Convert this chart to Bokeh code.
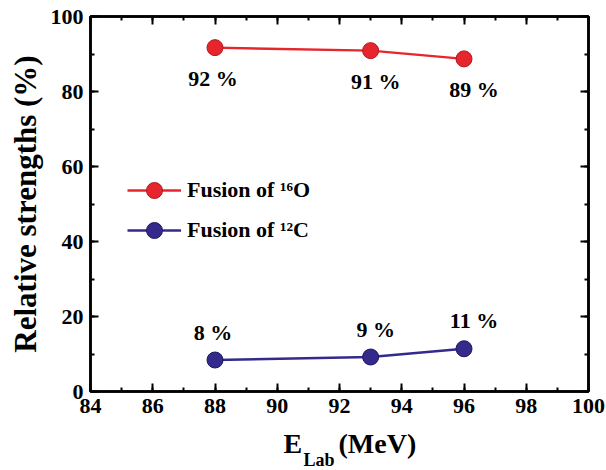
from bokeh.plotting import figure
from bokeh.layouts import column
from bokeh.models import (ColumnDataSource, Legend, LegendItem, Label, Range1d,
                          LinearAxis, SingleIntervalTicker)
from bokeh.embed import file_html
from bokeh.resources import INLINE
from bokeh.core.properties import value

# ---- data ----
energies = [88, 93, 96]
o16_strength = [91.7, 90.9, 88.7]
c12_strength = [8.4, 9.2, 11.4]
o16_labels = ["92 %", "91 %", "89 %"]
c12_labels = ["8 %", "9 %", "11 %"]
label_dx = [-2, 5, 10]

FONT = "Liberation Serif"
RED = "#e6262c"
RED_EDGE = "#b5161d"
BLUE = "#342a8c"
BLUE_EDGE = "#1f185c"

p = figure(width=606, height=426, x_range=Range1d(84, 100), y_range=Range1d(0, 100),
           x_axis_type=None, y_axis_type=None, output_backend="svg", title=None,
           toolbar_location=None, min_border_left=90, min_border_right=18,
           min_border_top=16, min_border_bottom=35)
p.outline_line_color = "black"
p.outline_line_width = 2.5
p.background_fill_color = "white"
p.border_fill_color = "white"


def style(ax, labels=True):
    ax.axis_line_width = 2.5
    ax.axis_line_color = "black"
    ax.major_tick_in = 8
    ax.major_tick_out = 0
    ax.minor_tick_in = 4
    ax.minor_tick_out = 0
    ax.major_tick_line_width = 2
    ax.minor_tick_line_width = 2
    ax.major_label_text_font = FONT
    ax.major_label_text_font_style = "bold"
    if labels:
        ax.major_label_text_font_size = "22px"
        ax.major_label_text_color = "black"
        ax.major_label_standoff = 7
    else:
        ax.major_label_text_font_size = "1px"
        ax.major_label_text_color = None
        ax.major_label_standoff = 0


xt = lambda: SingleIntervalTicker(interval=2, num_minor_ticks=2)
yt = lambda: SingleIntervalTicker(interval=20, num_minor_ticks=2)

bottom = LinearAxis(ticker=xt())
style(bottom)
top = LinearAxis(ticker=xt())
style(top, labels=False)
left = LinearAxis(ticker=yt(), axis_label="Relative strengths (%)")
style(left)
left.axis_label_text_font = FONT
left.axis_label_text_font_style = "bold"
left.axis_label_text_font_size = "31px"
left.axis_label_text_color = "black"
left.axis_label_standoff = 5
right = LinearAxis(ticker=yt())
style(right, labels=False)
p.add_layout(bottom, "below")
p.add_layout(left, "left")
p.add_layout(top, "above")
p.add_layout(right, "right")

src_o = ColumnDataSource(dict(x=energies, y=o16_strength, t=o16_labels, dx=label_dx))
src_c = ColumnDataSource(dict(x=energies, y=c12_strength, t=c12_labels, dx=label_dx))

lo = p.line("x", "y", source=src_o, line_color=RED, line_width=2.5)
so = p.scatter("x", "y", source=src_o, size=16, fill_color=RED, line_color=RED_EDGE, line_width=1)
lc = p.line("x", "y", source=src_c, line_color=BLUE, line_width=2.5)
sc = p.scatter("x", "y", source=src_c, size=16, fill_color=BLUE, line_color=BLUE_EDGE, line_width=1)

p.text("x", "y", text="t", source=src_o, x_offset="dx", y_offset=31,
       text_font=value(FONT), text_font_style="bold", text_font_size="22px",
       text_align="center", text_baseline="middle", text_color="black")
p.text("x", "y", text="t", source=src_c, x_offset="dx", y_offset=-28,
       text_font=value(FONT), text_font_style="bold", text_font_size="22px",
       text_align="center", text_baseline="middle", text_color="black")

legend = Legend(items=[LegendItem(label="Fusion of \u00b9\u2076O", renderers=[lo, so]),
                       LegendItem(label="Fusion of \u00b9\u00b2C", renderers=[lc, sc])],
                location=(37, 141), glyph_width=54, glyph_height=40, spacing=-3,
                padding=0, margin=0, label_standoff=6, border_line_color=None,
                background_fill_alpha=0, label_text_font=FONT,
                label_text_font_style="bold", label_text_font_size="22px",
                label_text_color="black")
p.add_layout(legend)

# ---- x-axis title strip (E_Lab (MeV)); frame aligned with the plot frame ----
t = figure(width=606, height=44, x_range=Range1d(90, 588), y_range=Range1d(44, 0),
           x_axis_type=None, y_axis_type=None, output_backend="svg", title=None,
           toolbar_location=None, min_border_left=90, min_border_right=18,
           min_border_top=0, min_border_bottom=0)
t.outline_line_color = None
t.background_fill_color = "white"
t.border_fill_color = "white"
common = dict(text_font=FONT, text_font_style="bold", text_color="black",
              text_baseline="alphabetic", text_align="left")
t.add_layout(Label(x=283, y=17, text="E", text_font_size="28px", **common))
t.add_layout(Label(x=303, y=33, text="Lab", text_font_size="18px", **common))
t.add_layout(Label(x=338, y=17, text="(MeV)", text_font_size="28px", **common))

layout = column(p, t, spacing=0)
open("out.html", "w").write(file_html(layout, INLINE))
